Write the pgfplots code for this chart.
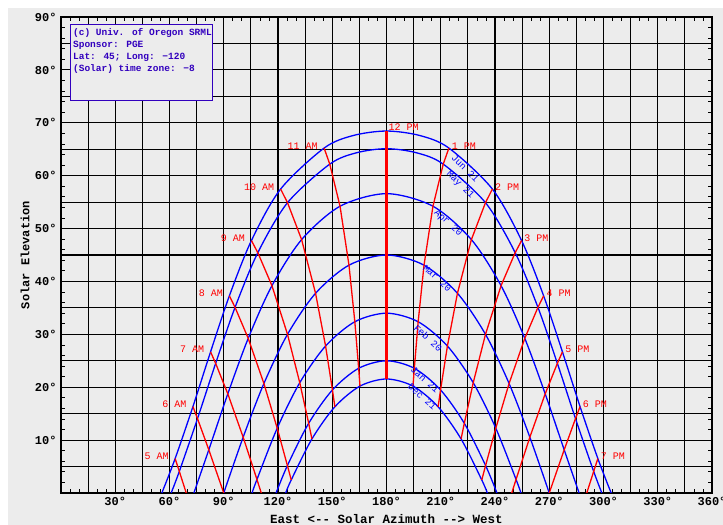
\documentclass[border=0pt]{standalone}
\usepackage{pgfplots}
\pgfplotsset{compat=1.18}
\usepackage{fontspec}
\setmainfont{Liberation Mono}
\definecolor{bg}{RGB}{236,236,236}
\definecolor{boxblue}{RGB}{50,0,190}
\begin{document}
\begin{tikzpicture}
\fill[white] (-61bp,-32bp) rectangle (662bp,493bp);
\fill[bg] (-53bp,-32bp) rectangle (662bp,485bp);
\begin{axis}[
  scale only axis, width=651bp, height=476bp,
  xmin=0, xmax=360, ymin=0, ymax=90,
  axis line style={black, line width=1.3bp},
  xtick={30,60,...,360},
  xticklabels={30°,60°,90°,120°,150°,180°,210°,240°,270°,300°,330°,360°},
  ytick={10,20,...,90},
  yticklabels={10°,20°,30°,40°,50°,60°,70°,80°,90°},
  minor xtick={15,45,...,345}, minor ytick={5,15,...,85},
  grid=both,
  major grid style={black, line width=1.2bp},
  minor grid style={black, line width=1.2bp},
  major tick length=0pt, minor tick length=0pt,
  extra x ticks={5,10,20,25,35,40,50,55,65,70,80,85,95,100,110,115,125,130,140,145,155,160,170,175,185,190,200,205,215,220,230,235,245,250,260,265,275,280,290,295,305,310,320,325,335,340,350,355},
  extra x tick labels={},
  extra x tick style={grid=none, major tick length=4bp, tick style={black, line width=0.8bp}},
  extra y ticks={2,4,6,8,12,14,16,18,22,24,26,28,32,34,36,38,42,44,46,48,52,54,56,58,62,64,66,68,72,74,76,78,82,84,86,88},
  extra y tick labels={},
  extra y tick style={grid=none, major tick length=4bp, tick style={black, line width=0.8bp}},
  tick label style={font=\fontsize{12bp}{14bp}\selectfont\bfseries},
  xticklabel style={yshift=-1bp},
  yticklabel style={xshift=-1bp},
  xlabel={East <-{}- Solar Azimuth -{}-> West},
  xlabel style={at={([yshift=-30bp]axis description cs:0.5,0)}, anchor=base, font=\fontsize{12.5bp}{14bp}\selectfont\bfseries},
  ylabel={Solar Elevation},
  ylabel style={at={([xshift=-36bp]axis description cs:0,0.5)}, anchor=center, font=\fontsize{12bp}{14bp}\selectfont\bfseries},
]
% date curves
\addplot[blue, line width=1.3bp, smooth] coordinates {(55.77,0) (63.12,6.51) (72.96,16.34) (82.71,26.69) (93.11,37.28) (105.30,47.73) (121.45,57.47) (145.50,65.22) (161.69,67.60) (180,68.44) (198.31,67.60) (214.50,65.22) (238.55,57.47) (254.70,47.73) (266.89,37.28) (277.29,26.69) (287.04,16.34) (296.88,6.51) (304.23,0)};
\addplot[blue, line width=1.3bp, smooth] coordinates {(60.92,0) (65.43,4.08) (75.49,14.06) (85.52,24.51) (96.25,35.10) (108.84,45.44) (125.27,54.89) (148.62,62.18) (163.56,64.34) (180,65.1) (196.44,64.34) (211.38,62.18) (234.73,54.89) (251.16,45.44) (263.75,35.10) (274.48,24.51) (284.51,14.06) (294.57,4.08) (299.08,0)};
\addplot[blue, line width=1.3bp, smooth] coordinates {(73.48,0) (81.74,8.17) (92.25,18.75) (103.53,29.24) (116.65,39.20) (133.06,47.91) (154.31,54.22) (180,56.6) (205.69,54.22) (226.94,47.91) (243.35,39.20) (256.47,29.24) (267.75,18.75) (278.26,8.17) (286.52,0)};
\addplot[blue, line width=1.3bp, smooth] coordinates {(90,0) (100.73,10.55) (112.21,20.70) (125.26,30.0) (140.77,37.76) (159.25,43.08) (180,45) (200.75,43.08) (219.23,37.76) (234.74,30) (247.79,20.70) (259.27,10.55) (270,0)};
\addplot[blue, line width=1.3bp, smooth] coordinates {(105.65,0) (108.36,2.56) (119.56,12.25) (132.03,20.85) (146.31,27.79) (162.49,32.38) (180,34.0) (197.51,32.38) (213.69,27.79) (227.97,20.85) (240.44,12.25) (251.64,2.56) (254.35,0)};
\addplot[blue, line width=1.3bp, smooth] coordinates {(118.93,0) (125.20,5.19) (136.97,13.18) (150.11,19.49) (164.61,23.58) (180,25.0) (195.39,23.58) (209.89,19.49) (223.03,13.18) (234.80,5.19) (241.07,0)};
\addplot[blue, line width=1.3bp, smooth] coordinates {(124.23,0) (127.32,2.47) (138.76,10.22) (151.45,16.30) (165.34,20.21) (180,21.56) (194.66,20.21) (208.55,16.30) (221.24,10.22) (232.68,2.47) (235.77,0)};
% hour lines
\addplot[red, line width=1.3bp] coordinates {(63.12,6.51) (65.43,4.08) (69.26,0)};
\addplot[red, line width=1.3bp] coordinates {(72.96,16.34) (75.49,14.06) (81.74,8.17) (90,0)};
\addplot[red, line width=1.3bp] coordinates {(82.71,26.69) (85.52,24.51) (92.25,18.75) (100.73,10.55) (108.36,2.56) (110.74,0)};
\addplot[red, line width=1.3bp] coordinates {(93.11,37.28) (96.25,35.10) (103.53,29.24) (112.21,20.70) (119.56,12.25) (125.20,5.19) (127.32,2.47)};
\addplot[red, line width=1.3bp] coordinates {(105.30,47.73) (108.84,45.44) (116.65,39.20) (125.26,30.0) (132.03,20.85) (136.97,13.18) (138.76,10.22)};
\addplot[red, line width=1.3bp] coordinates {(121.45,57.47) (125.27,54.89) (133.06,47.91) (140.77,37.76) (146.31,27.79) (150.11,19.49) (151.45,16.30)};
\addplot[red, line width=1.3bp] coordinates {(145.50,65.22) (148.62,62.18) (154.31,54.22) (159.25,43.08) (162.49,32.38) (164.61,23.58) (165.34,20.21)};
\addplot[red, line width=2.8bp] coordinates {(180,68.44) (180,21.56)};
\addplot[red, line width=1.3bp] coordinates {(214.50,65.22) (211.38,62.18) (205.69,54.22) (200.75,43.08) (197.51,32.38) (195.39,23.58) (194.66,20.21)};
\addplot[red, line width=1.3bp] coordinates {(238.55,57.47) (234.73,54.89) (226.94,47.91) (219.23,37.76) (213.69,27.79) (209.89,19.49) (208.55,16.30)};
\addplot[red, line width=1.3bp] coordinates {(254.70,47.73) (251.16,45.44) (243.35,39.20) (234.74,30.0) (227.97,20.85) (223.03,13.18) (221.24,10.22)};
\addplot[red, line width=1.3bp] coordinates {(266.89,37.28) (263.75,35.10) (256.47,29.24) (247.79,20.70) (240.44,12.25) (234.80,5.19) (232.68,2.47)};
\addplot[red, line width=1.3bp] coordinates {(277.29,26.69) (274.48,24.51) (267.75,18.75) (259.27,10.55) (251.64,2.56) (249.26,0)};
\addplot[red, line width=1.3bp] coordinates {(287.04,16.34) (284.51,14.06) (278.26,8.17) (270,0)};
\addplot[red, line width=1.3bp] coordinates {(296.88,6.51) (294.57,4.08) (290.74,0)};
% hour labels
\begin{scope}[every node/.style={text=red, font=\fontsize{10bp}{12bp}\selectfont, inner sep=0pt}]
\node[anchor=east] at (axis cs:59.6,6.9) {5 AM};
\node[anchor=east] at (axis cs:69.5,16.7) {6 AM};
\node[anchor=east] at (axis cs:79.2,27.1) {7 AM};
\node[anchor=east] at (axis cs:89.6,37.7) {8 AM};
\node[anchor=east] at (axis cs:101.8,48.1) {9 AM};
\node[anchor=east] at (axis cs:117.9,57.9) {10 AM};
\node[anchor=east] at (axis cs:142.0,65.6) {11 AM};
\node[anchor=west] at (axis cs:181,69.1) {12 PM};
\node[anchor=west] at (axis cs:216.0,65.6) {1 PM};
\node[anchor=west] at (axis cs:240.0,57.9) {2 PM};
\node[anchor=west] at (axis cs:256.2,48.1) {3 PM};
\node[anchor=west] at (axis cs:268.4,37.7) {4 PM};
\node[anchor=west] at (axis cs:278.8,27.1) {5 PM};
\node[anchor=west] at (axis cs:288.5,16.7) {6 PM};
\node[anchor=west] at (axis cs:298.4,6.9) {7 PM};
\end{scope}
% date labels
\begin{scope}[every node/.style={text=blue, font=\fontsize{9.5bp}{11bp}\selectfont, inner sep=0pt}]
\node[rotate=-45] at (axis cs:223.5,61.4) {Jun 21};
\node[rotate=-44] at (axis cs:220.7,58.2) {May 21};
\node[rotate=-43] at (axis cs:214,51) {Apr 20};
\node[rotate=-42] at (axis cs:208,40.6) {Mar 20};
\node[rotate=-42] at (axis cs:203,29.3) {Feb 20};
\node[rotate=-42] at (axis cs:201.3,21.4) {Jan 21};
\node[rotate=-42] at (axis cs:199.7,18.2) {Dec 21};
\end{scope}
% info box
\draw[boxblue, line width=1bp, fill=bg] (axis cs:5.5,74.3) rectangle (axis cs:84,88.5);
\node[anchor=north west, align=left, text=boxblue, inner sep=0pt, font=\fontsize{9.5bp}{12bp}\selectfont\bfseries] at (axis cs:6.6,87.8) {(c) Univ. of Oregon SRML\\Sponsor: PGE\\Lat: 45; Long: −120\\(Solar) time zone: −8};
\end{axis}
\pgfresetboundingbox
\path[use as bounding box] (-61bp,-32bp) rectangle (662bp,493bp);
\end{tikzpicture}
\end{document}
